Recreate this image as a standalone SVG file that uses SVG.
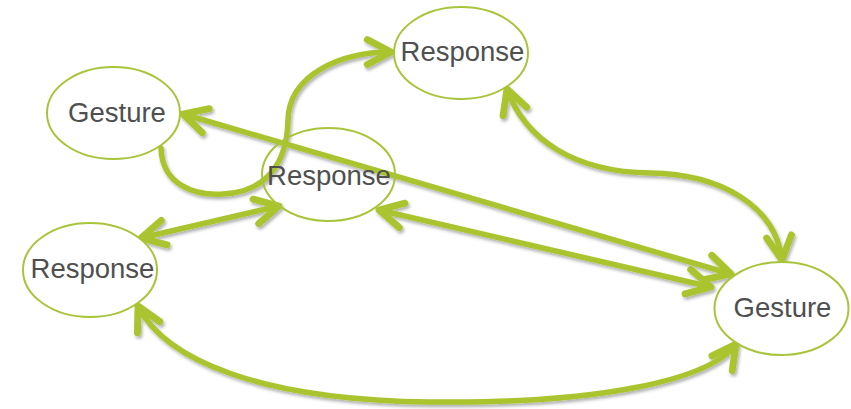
<svg xmlns="http://www.w3.org/2000/svg" width="851" height="409" viewBox="0 0 851 409">
<style>
.node ellipse{fill:#ffffff;stroke:#a8c43a;stroke-width:2}
.node text{font-family:"Liberation Sans",Arial,sans-serif;font-size:27.5px;fill:#4f4f4f;text-anchor:middle}
.conn path{fill:none;stroke:#a9c42f;stroke-width:5.5;stroke-linecap:round}
</style>
<defs>
<filter id="sh" x="-10%" y="-10%" width="120%" height="130%">
<feDropShadow dx="1.5" dy="2.5" stdDeviation="1.5" flood-color="#000" flood-opacity="0.3"/>
</filter>
<marker id="ah" markerUnits="userSpaceOnUse" markerWidth="40" markerHeight="40" viewBox="-24 -16 30 32" refX="0" refY="0" orient="auto-start-reverse">
<path d="M-19,-10 L0,0 L-19,10" fill="none" stroke="#a9c42f" stroke-width="5.5" stroke-linecap="round" stroke-linejoin="round"/>
</marker>
</defs>
<g id="connectors" class="conn" filter="url(#sh)">
<path id="c1" d="M161,148 C162,185 195,196 223,194 C265,192 287,165 288,120 C289,75 340,52 391,52" marker-end="url(#ah)"/>
<path id="c2" d="M183,114 L731,274" marker-start="url(#ah)" marker-end="url(#ah)"/>
<path id="c3" d="M379,210 L711,287" marker-start="url(#ah)" marker-end="url(#ah)"/>
<path id="c4" d="M141,238 L279,206" marker-start="url(#ah)" marker-end="url(#ah)"/>
<path id="c5" d="M507,89 C525,140 575,172 650,173 C720,174 775,205 782,260" marker-start="url(#ah)" marker-end="url(#ah)"/>
<path id="c6" d="M138,306 C165,360 260,400 430,402 C600,404 710,380 736,344" marker-start="url(#ah)" marker-end="url(#ah)"/>
</g>
<g id="n-gesture-tl" class="node">
<ellipse cx="113.5" cy="113" rx="66.5" ry="46"/>
<text x="117" y="122">Gesture</text>
</g>
<g id="n-response-top" class="node">
<ellipse cx="461" cy="53" rx="67" ry="46"/>
<text x="462.5" y="61">Response</text>
</g>
<g id="n-response-center" class="node">
<ellipse cx="328.5" cy="174.5" rx="66.5" ry="46.5" style="fill:none"/>
<text x="329" y="185">Response</text>
</g>
<g id="n-response-left" class="node">
<ellipse cx="90" cy="270" rx="67" ry="47"/>
<text x="92.5" y="278">Response</text>
</g>
<g id="n-gesture-br" class="node">
<ellipse cx="781.5" cy="308.5" rx="67" ry="46.5"/>
<text x="782.5" y="317">Gesture</text>
</g>
</svg>
